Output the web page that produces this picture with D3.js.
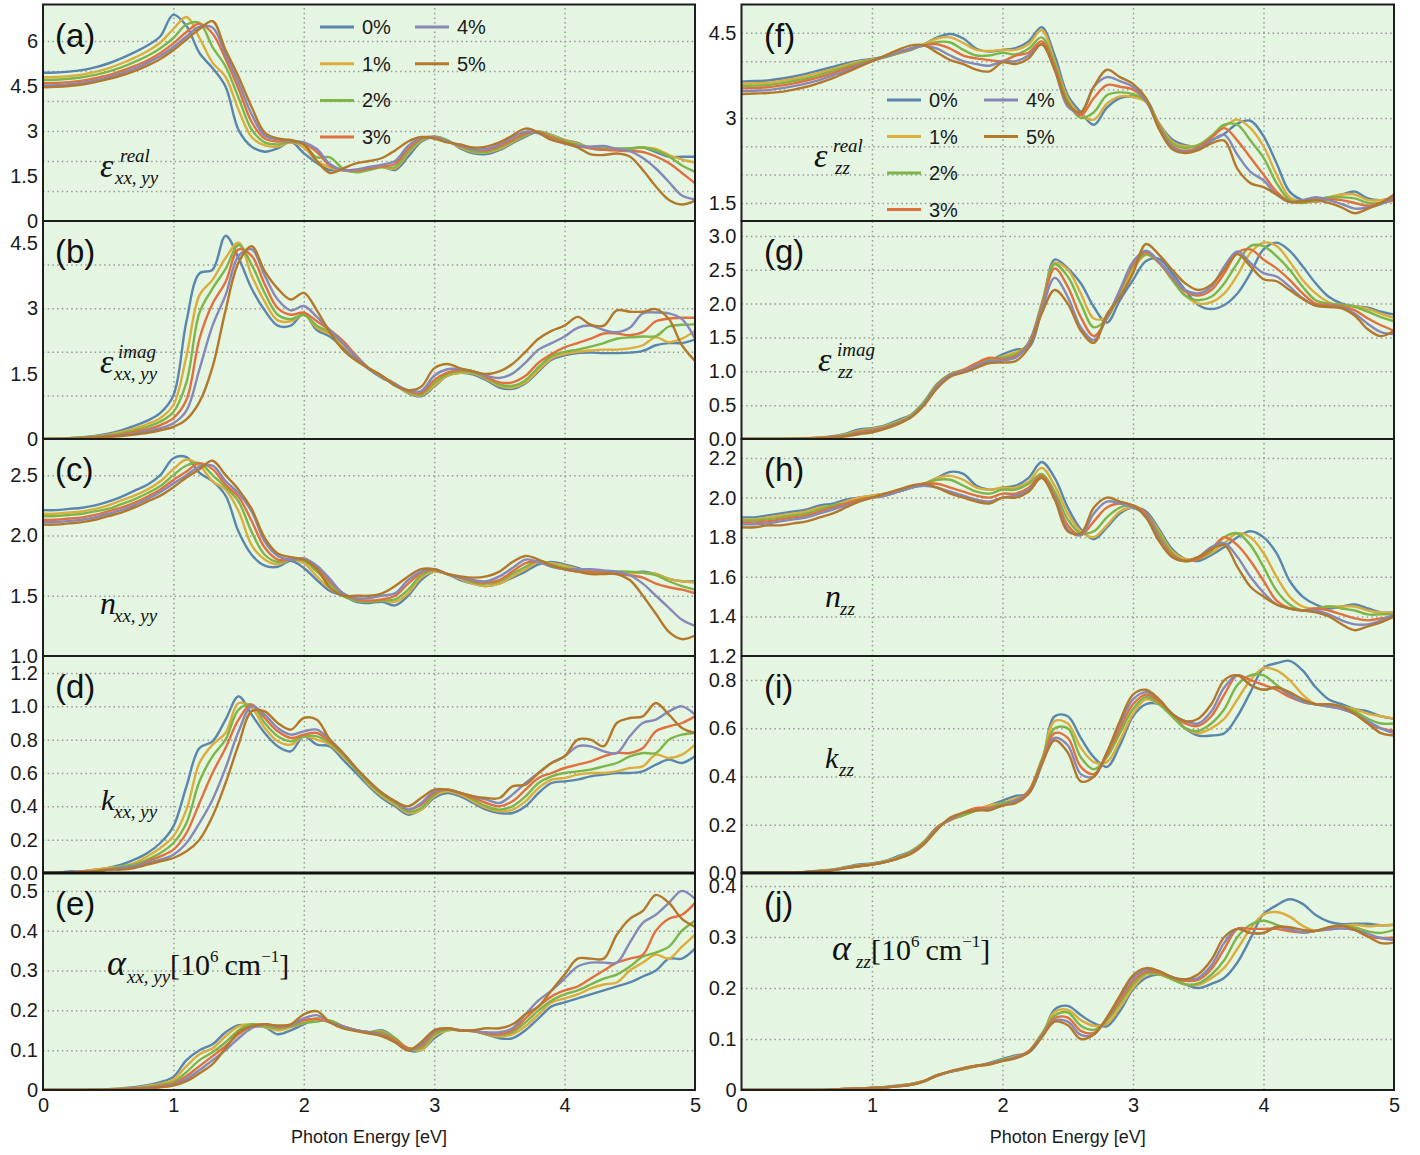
<!DOCTYPE html>
<html>
<head>
<meta charset="utf-8">
<script src="https://cdn.jsdelivr.net/npm/d3@7"></script>
<style>
  body { margin: 0; background: #ffffff; }
  svg { display: block; }
</style>
</head>
<body>
<svg id="chart" width="1420" height="1155"></svg>
<script>
// Photon energy grid (eV) shared by every spectrum
const energy = [0,0.1,0.2,0.3,0.4,0.5,0.6,0.7,0.8,0.9,1.0,1.1,1.2,1.3,1.4,1.5,1.6,1.7,1.8,1.9,2.0,2.1,2.2,2.3,2.4,2.5,2.6,2.7,2.8,2.9,3.0,3.1,3.2,3.3,3.4,3.5,3.6,3.7,3.8,3.9,4.0,4.1,4.2,4.3,4.4,4.5,4.6,4.7,4.8,4.9,5.0];

// Strain levels and their line colours
const strains = ["0%", "1%", "2%", "3%", "4%", "5%"];
const strainColors = ["#5a86ae", "#dcad3b", "#7cb548", "#e2703f", "#8588b8", "#b4782a"];

// (a) real part of in-plane dielectric function, one row per strain
const epsRealXX = [
  [4.94,4.95,4.98,5.03,5.12,5.25,5.42,5.62,5.85,6.16,6.88,6.5,5.6,5.1,4.48,3.03,2.48,2.31,2.42,2.64,2.26,1.93,1.7,1.7,1.64,1.75,1.81,1.7,2.14,2.64,2.81,2.7,2.42,2.26,2.23,2.37,2.59,2.81,2.98,2.87,2.7,2.6,2.42,2.37,2.37,2.4,2.45,2.3,2.14,2.14,2.14],
  [4.79,4.8,4.83,4.88,4.97,5.09,5.25,5.44,5.66,5.95,6.4,6.8,6.1,5.28,4.8,3.7,2.8,2.52,2.48,2.62,2.45,2.0,1.78,1.68,1.65,1.72,1.8,1.75,2.25,2.68,2.8,2.68,2.45,2.3,2.28,2.4,2.62,2.85,2.98,2.85,2.7,2.58,2.45,2.4,2.4,2.42,2.45,2.4,2.2,2.05,1.95],
  [4.7,4.71,4.74,4.79,4.87,4.98,5.12,5.3,5.5,5.76,6.1,6.55,6.6,5.8,5.15,4.1,3.05,2.62,2.55,2.62,2.55,2.12,2.12,1.75,1.62,1.7,1.8,1.8,2.3,2.7,2.8,2.68,2.48,2.32,2.3,2.45,2.65,2.88,2.98,2.82,2.68,2.55,2.45,2.42,2.42,2.42,2.45,2.35,2.15,1.85,1.64],
  [4.59,4.6,4.63,4.68,4.76,4.86,5.0,5.16,5.35,5.6,5.92,6.3,6.58,6.25,5.4,4.4,3.3,2.75,2.65,2.65,2.6,2.3,1.85,1.7,1.68,1.75,1.82,1.9,2.4,2.75,2.8,2.65,2.5,2.38,2.35,2.5,2.7,2.92,2.95,2.78,2.62,2.5,2.42,2.38,2.35,2.33,2.3,2.15,1.93,1.6,1.26],
  [4.52,4.53,4.56,4.61,4.69,4.79,4.92,5.08,5.27,5.5,5.8,6.15,6.48,6.45,5.55,4.6,3.55,2.85,2.72,2.68,2.62,2.4,1.9,1.7,1.72,1.8,1.88,2.0,2.5,2.78,2.78,2.65,2.52,2.4,2.4,2.55,2.78,2.98,2.92,2.72,2.58,2.5,2.48,2.5,2.4,2.33,2.1,1.75,1.3,0.85,0.72],
  [4.46,4.47,4.5,4.55,4.63,4.73,4.85,5.0,5.18,5.4,5.7,6.05,6.4,6.66,5.7,4.8,3.8,2.95,2.75,2.7,2.55,2.0,1.6,1.75,1.92,2.0,2.1,2.35,2.65,2.8,2.75,2.62,2.55,2.45,2.48,2.62,2.85,3.08,2.95,2.7,2.6,2.45,2.22,2.2,2.25,2.15,1.7,1.15,0.7,0.55,0.68]
];

// (b) imaginary part of in-plane dielectric function
const epsImagXX = [
  [0,0.01,0.02,0.04,0.07,0.12,0.2,0.3,0.42,0.6,1.0,2.7,3.8,3.88,4.66,4.15,3.45,2.95,2.6,2.6,2.87,2.5,2.35,2.1,1.85,1.6,1.4,1.25,1.05,0.98,1.2,1.45,1.52,1.48,1.35,1.18,1.15,1.28,1.55,1.82,1.92,1.97,1.98,1.97,1.97,1.98,2.02,2.15,2.2,2.2,2.28],
  [0,0.01,0.02,0.03,0.06,0.1,0.16,0.24,0.34,0.48,0.78,1.9,3.3,3.65,4.15,4.5,3.75,3.15,2.72,2.7,2.85,2.55,2.4,2.15,1.88,1.62,1.42,1.26,1.06,1.0,1.22,1.45,1.52,1.5,1.38,1.22,1.18,1.3,1.58,1.85,1.95,2.0,2.03,2.05,2.05,2.08,2.15,2.33,2.22,2.3,2.48],
  [0,0.01,0.02,0.03,0.05,0.08,0.13,0.2,0.28,0.4,0.62,1.3,2.9,3.45,3.9,4.45,4.0,3.35,2.85,2.75,2.85,2.6,2.45,2.2,1.9,1.62,1.43,1.27,1.08,1.02,1.28,1.48,1.55,1.52,1.4,1.25,1.22,1.35,1.65,1.9,2.0,2.05,2.12,2.2,2.3,2.33,2.35,2.36,2.58,2.62,2.63],
  [0,0,0.01,0.02,0.04,0.07,0.1,0.16,0.22,0.32,0.48,0.9,2.3,3.1,3.6,4.35,4.2,3.55,3.0,2.85,2.9,2.7,2.5,2.25,1.92,1.62,1.43,1.26,1.1,1.05,1.35,1.52,1.58,1.55,1.42,1.3,1.3,1.45,1.75,1.95,2.1,2.2,2.3,2.42,2.42,2.38,2.45,2.7,2.76,2.78,2.78],
  [0,0,0.01,0.02,0.03,0.06,0.08,0.12,0.18,0.25,0.36,0.65,1.6,2.6,3.3,4.2,4.35,3.75,3.2,2.95,3.05,2.8,2.5,2.2,1.88,1.62,1.44,1.25,1.12,1.1,1.45,1.6,1.6,1.55,1.45,1.4,1.5,1.75,2.05,2.2,2.35,2.55,2.6,2.5,2.45,2.55,2.88,2.9,2.88,2.75,2.3],
  [0,0,0.01,0.02,0.03,0.05,0.07,0.1,0.14,0.2,0.28,0.45,0.85,1.65,2.95,4.05,4.42,3.85,3.45,3.2,3.35,2.95,2.45,2.05,1.8,1.62,1.45,1.22,1.12,1.2,1.62,1.72,1.62,1.55,1.49,1.55,1.72,2.0,2.3,2.48,2.6,2.8,2.62,2.6,2.95,2.92,2.92,2.98,2.75,2.15,1.79]
];

// (c) in-plane refractive index
const nXX = [
  [2.21,2.21,2.22,2.23,2.25,2.28,2.32,2.37,2.42,2.5,2.64,2.65,2.52,2.45,2.33,2.03,1.84,1.75,1.74,1.79,1.73,1.63,1.54,1.5,1.45,1.44,1.45,1.42,1.5,1.63,1.7,1.68,1.63,1.6,1.58,1.6,1.65,1.7,1.76,1.78,1.76,1.73,1.7,1.69,1.69,1.69,1.7,1.68,1.64,1.62,1.62],
  [2.18,2.18,2.19,2.2,2.22,2.25,2.29,2.33,2.38,2.45,2.55,2.63,2.58,2.45,2.38,2.2,1.92,1.8,1.76,1.8,1.77,1.66,1.56,1.5,1.46,1.45,1.46,1.45,1.52,1.65,1.7,1.68,1.64,1.6,1.58,1.6,1.66,1.72,1.78,1.77,1.75,1.72,1.7,1.69,1.69,1.69,1.69,1.68,1.64,1.62,1.61],
  [2.16,2.16,2.17,2.18,2.2,2.22,2.26,2.3,2.35,2.41,2.5,2.58,2.6,2.5,2.4,2.28,2.03,1.84,1.78,1.8,1.79,1.7,1.6,1.5,1.46,1.45,1.46,1.47,1.55,1.67,1.71,1.68,1.65,1.61,1.6,1.62,1.68,1.74,1.79,1.76,1.73,1.71,1.7,1.7,1.7,1.7,1.69,1.67,1.62,1.58,1.55],
  [2.13,2.13,2.14,2.15,2.17,2.2,2.23,2.27,2.32,2.38,2.46,2.53,2.6,2.55,2.42,2.32,2.12,1.9,1.8,1.8,1.8,1.73,1.62,1.52,1.47,1.46,1.47,1.5,1.6,1.69,1.72,1.68,1.65,1.62,1.61,1.63,1.7,1.77,1.78,1.75,1.72,1.7,1.7,1.69,1.68,1.67,1.65,1.6,1.57,1.55,1.52],
  [2.11,2.11,2.12,2.13,2.15,2.18,2.21,2.25,2.3,2.36,2.43,2.5,2.57,2.58,2.45,2.35,2.2,1.95,1.83,1.8,1.81,1.75,1.64,1.52,1.48,1.48,1.5,1.52,1.63,1.7,1.72,1.68,1.65,1.63,1.62,1.66,1.73,1.8,1.78,1.74,1.72,1.72,1.72,1.71,1.7,1.67,1.6,1.5,1.4,1.3,1.25],
  [2.09,2.09,2.1,2.11,2.13,2.16,2.19,2.23,2.28,2.33,2.4,2.48,2.55,2.62,2.5,2.38,2.22,1.98,1.85,1.82,1.8,1.72,1.57,1.5,1.5,1.5,1.52,1.58,1.66,1.72,1.72,1.68,1.66,1.65,1.66,1.7,1.78,1.83,1.8,1.75,1.72,1.7,1.68,1.68,1.68,1.63,1.5,1.35,1.2,1.14,1.17]
];

// (d) in-plane extinction coefficient
const kXX = [
  [0,0,0.01,0.01,0.02,0.03,0.05,0.08,0.12,0.18,0.28,0.52,0.75,0.79,0.92,1.06,0.95,0.84,0.76,0.73,0.82,0.77,0.76,0.68,0.6,0.52,0.45,0.4,0.35,0.38,0.45,0.48,0.46,0.42,0.38,0.36,0.36,0.4,0.48,0.54,0.55,0.56,0.58,0.59,0.6,0.6,0.61,0.65,0.68,0.66,0.7],
  [0,0,0,0.01,0.02,0.03,0.04,0.06,0.1,0.15,0.22,0.38,0.66,0.77,0.84,1.02,0.99,0.87,0.79,0.77,0.82,0.8,0.77,0.7,0.62,0.53,0.46,0.41,0.36,0.38,0.46,0.49,0.47,0.43,0.39,0.37,0.38,0.43,0.51,0.56,0.57,0.59,0.6,0.6,0.61,0.63,0.64,0.71,0.69,0.71,0.77],
  [0,0,0,0.01,0.01,0.02,0.04,0.05,0.08,0.12,0.18,0.3,0.55,0.7,0.8,0.98,1.01,0.9,0.82,0.79,0.82,0.82,0.78,0.71,0.62,0.54,0.47,0.42,0.37,0.39,0.47,0.5,0.48,0.44,0.4,0.38,0.4,0.46,0.54,0.58,0.6,0.61,0.62,0.64,0.66,0.7,0.72,0.72,0.8,0.83,0.84],
  [0,0,0,0.01,0.01,0.02,0.03,0.04,0.07,0.1,0.14,0.24,0.42,0.6,0.75,0.92,1.01,0.93,0.85,0.81,0.83,0.84,0.79,0.72,0.63,0.55,0.48,0.43,0.38,0.41,0.48,0.5,0.48,0.45,0.42,0.4,0.43,0.5,0.57,0.6,0.63,0.65,0.67,0.7,0.72,0.72,0.75,0.85,0.88,0.9,0.94],
  [0,0,0,0,0.01,0.02,0.03,0.04,0.06,0.08,0.11,0.18,0.3,0.44,0.63,0.85,1.0,0.95,0.87,0.83,0.85,0.86,0.8,0.72,0.63,0.55,0.48,0.43,0.38,0.42,0.49,0.5,0.48,0.46,0.44,0.42,0.47,0.54,0.6,0.66,0.7,0.76,0.76,0.73,0.72,0.82,0.9,0.92,0.97,1.0,0.95],
  [0,0,0,0,0.01,0.02,0.02,0.03,0.05,0.07,0.09,0.13,0.2,0.34,0.54,0.77,0.97,0.97,0.9,0.86,0.93,0.92,0.8,0.72,0.63,0.55,0.48,0.43,0.4,0.45,0.5,0.5,0.48,0.46,0.45,0.45,0.52,0.53,0.6,0.66,0.7,0.8,0.8,0.76,0.9,0.93,0.94,1.02,0.95,0.87,0.84]
];

// (e) in-plane absorption coefficient, 10^6 cm^-1
const alphaXX = [
  [0,0,0,0,0.001,0.002,0.004,0.007,0.012,0.02,0.033,0.075,0.1,0.115,0.145,0.163,0.16,0.158,0.14,0.15,0.165,0.18,0.17,0.158,0.15,0.145,0.15,0.13,0.1,0.1,0.13,0.15,0.15,0.148,0.14,0.13,0.13,0.15,0.18,0.21,0.22,0.23,0.24,0.25,0.26,0.27,0.285,0.3,0.33,0.33,0.355],
  [0,0,0,0,0.001,0.002,0.003,0.005,0.01,0.016,0.026,0.06,0.09,0.105,0.135,0.16,0.165,0.158,0.15,0.158,0.168,0.18,0.17,0.16,0.15,0.145,0.148,0.13,0.105,0.1,0.135,0.15,0.15,0.148,0.14,0.135,0.14,0.16,0.19,0.22,0.23,0.24,0.255,0.265,0.27,0.3,0.32,0.34,0.33,0.36,0.39],
  [0,0,0,0,0.001,0.002,0.003,0.004,0.008,0.013,0.02,0.045,0.075,0.095,0.12,0.15,0.165,0.16,0.155,0.16,0.168,0.172,0.175,0.16,0.15,0.145,0.145,0.13,0.105,0.105,0.14,0.152,0.15,0.148,0.14,0.138,0.145,0.17,0.2,0.225,0.24,0.25,0.265,0.28,0.29,0.31,0.335,0.345,0.36,0.4,0.425],
  [0,0,0,0,0.001,0.001,0.002,0.004,0.006,0.01,0.016,0.035,0.06,0.085,0.11,0.14,0.16,0.165,0.158,0.162,0.175,0.178,0.17,0.16,0.15,0.145,0.14,0.125,0.105,0.11,0.145,0.155,0.15,0.148,0.142,0.14,0.15,0.18,0.21,0.235,0.25,0.26,0.28,0.3,0.32,0.33,0.34,0.4,0.43,0.44,0.47],
  [0,0,0,0,0,0.001,0.002,0.003,0.005,0.008,0.013,0.028,0.05,0.075,0.1,0.13,0.155,0.165,0.16,0.163,0.18,0.188,0.17,0.16,0.15,0.145,0.138,0.12,0.1,0.115,0.148,0.155,0.15,0.148,0.145,0.145,0.155,0.19,0.225,0.25,0.28,0.31,0.32,0.32,0.32,0.37,0.42,0.44,0.47,0.5,0.48],
  [0,0,0,0,0,0.001,0.002,0.003,0.004,0.007,0.011,0.022,0.042,0.065,0.105,0.145,0.16,0.165,0.162,0.165,0.19,0.198,0.17,0.155,0.148,0.142,0.135,0.12,0.1,0.12,0.15,0.155,0.15,0.15,0.155,0.155,0.165,0.19,0.21,0.25,0.29,0.33,0.33,0.33,0.39,0.43,0.45,0.49,0.47,0.43,0.41]
];

// (f) real part of out-of-plane dielectric function
const epsRealZZ = [
  [3.64,3.65,3.66,3.69,3.73,3.78,3.84,3.9,3.96,4.01,4.04,4.08,4.14,4.2,4.3,4.42,4.48,4.4,4.22,4.17,4.2,4.23,4.35,4.6,4.1,3.4,3.1,2.88,3.18,3.35,3.38,3.32,2.9,2.62,2.52,2.5,2.6,2.72,2.9,2.95,2.68,2.2,1.7,1.55,1.52,1.58,1.65,1.7,1.58,1.55,1.6],
  [3.6,3.61,3.62,3.65,3.69,3.74,3.8,3.86,3.93,3.99,4.03,4.08,4.14,4.22,4.3,4.4,4.42,4.32,4.2,4.18,4.2,4.2,4.3,4.55,4.0,3.35,3.05,2.97,3.25,3.38,3.37,3.28,2.9,2.58,2.5,2.52,2.65,2.85,2.97,2.82,2.5,2.0,1.6,1.52,1.53,1.6,1.65,1.65,1.55,1.55,1.58],
  [3.56,3.57,3.58,3.61,3.65,3.7,3.76,3.83,3.9,3.97,4.02,4.07,4.14,4.22,4.28,4.34,4.33,4.2,4.1,4.1,4.15,4.12,4.22,4.42,3.95,3.3,3.0,3.1,3.4,3.45,3.42,3.3,2.88,2.55,2.47,2.52,2.68,2.88,2.88,2.6,2.3,1.85,1.55,1.5,1.55,1.6,1.6,1.58,1.5,1.5,1.55],
  [3.52,3.53,3.54,3.57,3.61,3.66,3.72,3.79,3.87,3.94,4.01,4.08,4.15,4.22,4.28,4.3,4.22,4.1,4.05,4.02,4.0,4.1,4.15,4.35,3.9,3.25,3.05,3.35,3.58,3.55,3.5,3.3,2.85,2.5,2.42,2.48,2.65,2.82,2.6,2.3,2.0,1.7,1.52,1.52,1.57,1.57,1.55,1.5,1.45,1.5,1.55],
  [3.47,3.48,3.49,3.52,3.56,3.61,3.67,3.75,3.83,3.92,4.0,4.08,4.16,4.23,4.27,4.22,4.1,4.0,3.95,3.92,4.0,4.0,4.1,4.3,3.85,3.2,3.1,3.55,3.72,3.65,3.55,3.3,2.82,2.48,2.4,2.45,2.6,2.7,2.35,2.05,1.9,1.65,1.52,1.55,1.6,1.55,1.48,1.4,1.42,1.48,1.6],
  [3.42,3.43,3.44,3.46,3.5,3.55,3.62,3.7,3.8,3.9,4.0,4.1,4.2,4.28,4.28,4.15,4.02,3.95,3.85,3.82,3.98,3.95,4.05,4.3,3.85,3.25,3.1,3.55,3.85,3.72,3.6,3.35,2.8,2.45,2.38,2.43,2.55,2.6,2.1,1.85,1.78,1.65,1.52,1.53,1.55,1.5,1.42,1.32,1.4,1.5,1.65]
];

// (g) imaginary part of out-of-plane dielectric function
const epsImagZZ = [
  [0,0,0,0,0.01,0.01,0.02,0.04,0.08,0.14,0.16,0.2,0.28,0.36,0.55,0.8,0.95,1.0,1.1,1.15,1.25,1.32,1.35,1.9,2.65,2.52,2.3,1.95,1.72,2.05,2.35,2.63,2.66,2.45,2.2,1.98,1.92,1.98,2.15,2.45,2.8,2.9,2.78,2.55,2.3,2.1,2.0,1.96,1.94,1.88,1.84],
  [0,0,0,0,0.01,0.01,0.02,0.03,0.07,0.12,0.15,0.19,0.26,0.35,0.55,0.8,0.95,1.0,1.1,1.15,1.22,1.28,1.38,1.95,2.6,2.5,2.15,1.78,1.8,2.15,2.5,2.72,2.62,2.38,2.12,2.0,2.02,2.15,2.42,2.75,2.9,2.85,2.62,2.35,2.15,2.02,1.98,1.96,1.92,1.85,1.79],
  [0,0,0,0,0.01,0.01,0.02,0.03,0.06,0.11,0.14,0.18,0.25,0.34,0.55,0.82,0.96,1.02,1.1,1.18,1.2,1.25,1.42,2.0,2.58,2.4,2.0,1.65,1.78,2.18,2.55,2.73,2.6,2.35,2.12,2.05,2.1,2.3,2.6,2.85,2.85,2.7,2.5,2.25,2.05,2.0,1.98,1.95,1.88,1.8,1.74],
  [0,0,0,0,0,0.01,0.02,0.03,0.05,0.1,0.13,0.17,0.24,0.33,0.52,0.8,0.95,1.02,1.12,1.2,1.18,1.22,1.42,1.95,2.52,2.25,1.8,1.52,1.78,2.2,2.58,2.76,2.6,2.38,2.18,2.12,2.2,2.45,2.75,2.8,2.65,2.52,2.35,2.15,2.0,1.98,1.96,1.9,1.78,1.68,1.6],
  [0,0,0,0,0,0.01,0.01,0.02,0.05,0.08,0.11,0.16,0.23,0.33,0.52,0.78,0.94,1.0,1.08,1.15,1.16,1.2,1.4,1.9,2.38,2.1,1.65,1.46,1.8,2.2,2.62,2.78,2.62,2.4,2.2,2.15,2.25,2.55,2.77,2.6,2.45,2.4,2.25,2.08,1.97,1.96,1.94,1.85,1.7,1.58,1.55],
  [0,0,0,0,0,0.01,0.01,0.02,0.04,0.07,0.1,0.15,0.22,0.32,0.5,0.75,0.92,0.98,1.05,1.12,1.13,1.15,1.35,1.85,2.2,2.0,1.6,1.42,1.84,2.1,2.45,2.88,2.72,2.5,2.3,2.2,2.28,2.5,2.73,2.55,2.36,2.33,2.2,2.07,1.97,1.95,1.93,1.82,1.62,1.52,1.6]
];

// (h) out-of-plane refractive index
const nZZ = [
  [1.9,1.9,1.91,1.92,1.93,1.94,1.96,1.97,1.99,2.0,2.01,2.02,2.03,2.05,2.07,2.1,2.13,2.12,2.06,2.04,2.05,2.06,2.1,2.18,2.1,1.95,1.84,1.79,1.85,1.92,1.95,1.93,1.84,1.74,1.69,1.68,1.71,1.75,1.8,1.83,1.8,1.72,1.58,1.5,1.46,1.44,1.45,1.46,1.44,1.42,1.42],
  [1.89,1.89,1.9,1.91,1.92,1.93,1.95,1.96,1.98,2.0,2.01,2.02,2.03,2.05,2.07,2.1,2.11,2.09,2.05,2.04,2.05,2.05,2.08,2.15,2.06,1.92,1.83,1.8,1.86,1.93,1.95,1.92,1.83,1.73,1.69,1.69,1.72,1.77,1.82,1.8,1.72,1.6,1.5,1.45,1.44,1.45,1.45,1.45,1.43,1.42,1.42],
  [1.885,1.885,1.89,1.9,1.91,1.92,1.94,1.96,1.97,1.99,2.0,2.01,2.03,2.05,2.07,2.09,2.09,2.06,2.03,2.02,2.04,2.04,2.07,2.12,2.03,1.89,1.82,1.83,1.9,1.95,1.96,1.92,1.82,1.72,1.68,1.69,1.73,1.8,1.82,1.76,1.65,1.53,1.46,1.43,1.44,1.45,1.44,1.43,1.41,1.41,1.41],
  [1.875,1.875,1.88,1.89,1.9,1.91,1.93,1.95,1.97,1.99,2.0,2.01,2.03,2.05,2.07,2.07,2.05,2.03,2.01,2.0,2.02,2.02,2.05,2.11,2.01,1.86,1.81,1.88,1.95,1.97,1.96,1.92,1.8,1.71,1.68,1.69,1.74,1.8,1.76,1.68,1.58,1.48,1.44,1.43,1.44,1.43,1.41,1.39,1.38,1.39,1.4],
  [1.865,1.865,1.87,1.88,1.89,1.9,1.92,1.94,1.96,1.98,2.0,2.01,2.03,2.05,2.06,2.05,2.03,2.01,1.99,1.98,2.0,2.01,2.04,2.1,2.0,1.84,1.81,1.92,1.98,1.97,1.95,1.91,1.79,1.7,1.68,1.7,1.75,1.77,1.7,1.6,1.52,1.46,1.44,1.43,1.43,1.41,1.38,1.36,1.36,1.38,1.41],
  [1.85,1.85,1.86,1.86,1.87,1.88,1.9,1.92,1.95,1.98,2.0,2.02,2.04,2.06,2.07,2.05,2.02,2.0,1.98,1.97,2.0,2.0,2.03,2.1,1.99,1.83,1.82,1.95,2.0,1.98,1.96,1.9,1.78,1.7,1.68,1.7,1.74,1.76,1.65,1.55,1.5,1.46,1.44,1.43,1.42,1.4,1.36,1.33,1.35,1.37,1.4]
];

// (i) out-of-plane extinction coefficient
const kZZ = [
  [0,0,0,0,0,0.005,0.01,0.015,0.025,0.035,0.04,0.05,0.07,0.09,0.13,0.19,0.22,0.24,0.26,0.28,0.3,0.32,0.33,0.45,0.65,0.65,0.56,0.48,0.44,0.53,0.65,0.7,0.7,0.66,0.6,0.57,0.57,0.58,0.65,0.75,0.85,0.87,0.88,0.84,0.77,0.72,0.7,0.68,0.67,0.65,0.64],
  [0,0,0,0,0,0.004,0.009,0.014,0.023,0.032,0.038,0.048,0.065,0.09,0.13,0.19,0.22,0.24,0.26,0.28,0.29,0.31,0.33,0.46,0.63,0.62,0.52,0.46,0.46,0.55,0.66,0.72,0.7,0.65,0.6,0.58,0.6,0.64,0.72,0.8,0.85,0.84,0.8,0.74,0.7,0.7,0.69,0.68,0.66,0.65,0.64],
  [0,0,0,0,0,0.004,0.008,0.013,0.022,0.03,0.036,0.046,0.063,0.09,0.13,0.19,0.22,0.24,0.26,0.27,0.29,0.3,0.34,0.47,0.6,0.6,0.48,0.43,0.48,0.58,0.68,0.73,0.7,0.65,0.6,0.59,0.62,0.68,0.78,0.82,0.82,0.78,0.74,0.71,0.7,0.7,0.69,0.67,0.64,0.62,0.62],
  [0,0,0,0,0,0.004,0.008,0.012,0.021,0.029,0.035,0.045,0.062,0.085,0.125,0.19,0.22,0.25,0.27,0.27,0.28,0.3,0.34,0.46,0.58,0.56,0.44,0.41,0.49,0.6,0.7,0.74,0.71,0.66,0.62,0.61,0.65,0.74,0.82,0.8,0.78,0.76,0.73,0.71,0.7,0.69,0.68,0.66,0.62,0.6,0.59],
  [0,0,0,0,0,0.003,0.007,0.012,0.02,0.028,0.035,0.045,0.06,0.083,0.122,0.185,0.225,0.25,0.26,0.265,0.28,0.3,0.33,0.45,0.56,0.53,0.41,0.4,0.5,0.62,0.72,0.75,0.72,0.66,0.63,0.62,0.67,0.77,0.82,0.78,0.76,0.77,0.74,0.71,0.7,0.69,0.68,0.66,0.63,0.6,0.58],
  [0,0,0,0,0,0.003,0.007,0.012,0.02,0.028,0.035,0.045,0.06,0.08,0.12,0.18,0.23,0.25,0.26,0.26,0.28,0.29,0.33,0.45,0.55,0.5,0.38,0.4,0.5,0.63,0.74,0.76,0.72,0.66,0.63,0.64,0.7,0.8,0.82,0.78,0.76,0.77,0.75,0.72,0.7,0.7,0.69,0.66,0.62,0.58,0.57]
];

// (j) out-of-plane absorption coefficient, 10^6 cm^-1
const alphaZZ = [
  [0,0,0,0,0,0,0,0.001,0.002,0.003,0.004,0.006,0.009,0.012,0.018,0.029,0.036,0.041,0.047,0.053,0.061,0.068,0.073,0.104,0.158,0.165,0.147,0.131,0.125,0.155,0.197,0.22,0.227,0.222,0.207,0.2,0.208,0.22,0.25,0.297,0.345,0.362,0.374,0.365,0.343,0.33,0.325,0.326,0.326,0.323,0.324],
  [0,0,0,0,0,0,0,0.001,0.002,0.003,0.004,0.005,0.008,0.012,0.018,0.029,0.036,0.041,0.047,0.052,0.059,0.066,0.074,0.107,0.153,0.157,0.137,0.126,0.13,0.162,0.2,0.226,0.227,0.217,0.207,0.206,0.219,0.24,0.277,0.316,0.344,0.349,0.34,0.322,0.312,0.319,0.322,0.324,0.321,0.323,0.324],
  [0,0,0,0,0,0,0,0.001,0.002,0.003,0.004,0.005,0.008,0.012,0.018,0.029,0.036,0.041,0.047,0.052,0.059,0.064,0.076,0.11,0.146,0.152,0.126,0.118,0.136,0.17,0.207,0.229,0.227,0.217,0.207,0.209,0.226,0.255,0.3,0.324,0.332,0.324,0.315,0.309,0.312,0.319,0.322,0.319,0.311,0.308,0.314],
  [0,0,0,0,0,0,0,0.001,0.002,0.003,0.004,0.005,0.008,0.011,0.018,0.029,0.036,0.042,0.048,0.052,0.057,0.064,0.076,0.107,0.141,0.142,0.116,0.112,0.139,0.176,0.213,0.232,0.23,0.221,0.214,0.216,0.237,0.277,0.316,0.316,0.316,0.316,0.311,0.309,0.312,0.315,0.317,0.314,0.301,0.298,0.299],
  [0,0,0,0,0,0,0,0.001,0.002,0.003,0.004,0.005,0.007,0.01,0.017,0.028,0.036,0.043,0.047,0.051,0.057,0.064,0.074,0.105,0.136,0.134,0.108,0.109,0.142,0.182,0.219,0.236,0.233,0.221,0.217,0.22,0.244,0.289,0.316,0.308,0.308,0.32,0.315,0.309,0.312,0.315,0.317,0.314,0.306,0.298,0.294],
  [0,0,0,0,0,0,0,0.001,0.002,0.003,0.004,0.005,0.007,0.01,0.017,0.028,0.037,0.043,0.047,0.05,0.057,0.062,0.074,0.103,0.134,0.127,0.1,0.109,0.142,0.185,0.225,0.239,0.233,0.221,0.217,0.227,0.255,0.3,0.316,0.308,0.308,0.32,0.319,0.314,0.312,0.319,0.322,0.314,0.301,0.288,0.289]
];

// Tick labels (value, text) and grid-line values for each panel
const ticksA = [[0,"0"],[1.5,"1.5"],[3,"3"],[4.5,"4.5"],[6,"6"]];
const gridA = [1,2,3,4,5,6];
const ticksB = [[0,"0"],[1.5,"1.5"],[3,"3"],[4.5,"4.5"]];
const gridB = [1,2,3,4];
const ticksC = [[1,"1.0"],[1.5,"1.5"],[2,"2.0"],[2.5,"2.5"]];
const gridC = [1.5,2,2.5];
const ticksD = [[0,"0.0"],[0.2,"0.2"],[0.4,"0.4"],[0.6,"0.6"],[0.8,"0.8"],[1.0,"1.0"],[1.2,"1.2"]];
const gridD = [0.2,0.4,0.6,0.8,1.0,1.2];
const ticksE = [[0,"0"],[0.1,"0.1"],[0.2,"0.2"],[0.3,"0.3"],[0.4,"0.4"],[0.5,"0.5"]];
const gridE = [0.1,0.2,0.3,0.4,0.5];
const ticksF = [[1.5,"1.5"],[3,"3"],[4.5,"4.5"]];
const gridF = [1.5,2,2.5,3,3.5,4,4.5];
const ticksG = [[0,"0.0"],[0.5,"0.5"],[1,"1.0"],[1.5,"1.5"],[2,"2.0"],[2.5,"2.5"],[3,"3.0"]];
const gridG = [0.5,1,1.5,2,2.5,3];
const ticksH = [[1.2,"1.2"],[1.4,"1.4"],[1.6,"1.6"],[1.8,"1.8"],[2.0,"2.0"],[2.2,"2.2"]];
const gridH = [1.4,1.6,1.8,2.0,2.2];
const ticksI = [[0,"0.0"],[0.2,"0.2"],[0.4,"0.4"],[0.6,"0.6"],[0.8,"0.8"]];
const gridI = [0.2,0.4,0.6,0.8];
const ticksJ = [[0,"0"],[0.1,"0.1"],[0.2,"0.2"],[0.3,"0.3"],[0.4,"0.4"]];
const gridJ = [0.1,0.2,0.3,0.4];
const energyTicks = [0,1,2,3,4,5];

// ---- layout ----
const columns = [[43, 695], [741.5, 1394]];
const rows = [[4.5, 221], [221, 439], [439, 656], [656, 873], [873, 1090]];

const panels = [
  { id: "a", col: 0, row: 0, data: epsRealXX, domain: [0, 7.217], ticks: ticksA, grid: gridA },
  { id: "b", col: 0, row: 1, data: epsImagXX, domain: [0, 5.0],   ticks: ticksB, grid: gridB },
  { id: "c", col: 0, row: 2, data: nXX,       domain: [1, 2.8],   ticks: ticksC, grid: gridC },
  { id: "d", col: 0, row: 3, data: kXX,       domain: [0, 1.302], ticks: ticksD, grid: gridD },
  { id: "e", col: 0, row: 4, data: alphaXX,   domain: [0, 0.545], ticks: ticksE, grid: gridE },
  { id: "f", col: 1, row: 0, data: epsRealZZ, domain: [1.182, 5.0], ticks: ticksF, grid: gridF },
  { id: "g", col: 1, row: 1, data: epsImagZZ, domain: [0, 3.22],  ticks: ticksG, grid: gridG },
  { id: "h", col: 1, row: 2, data: nZZ,       domain: [1.2, 2.296], ticks: ticksH, grid: gridH },
  { id: "i", col: 1, row: 3, data: kZZ,       domain: [0, 0.9],   ticks: ticksI, grid: gridI },
  { id: "j", col: 1, row: 4, data: alphaZZ,   domain: [0, 0.4255], ticks: ticksJ, grid: gridJ }
];

const svg = d3.select("#chart");
const defs = svg.append("defs");
const sansFont = "'Liberation Sans', Arial, sans-serif";
const serifFont = "'Liberation Serif', 'Times New Roman', serif";

const xScales = columns.map(c => d3.scaleLinear().domain([0, 5]).range(c));

panels.forEach(p => {
  const [x0, x1] = columns[p.col];
  const [y0, y1] = rows[p.row];
  const x = xScales[p.col];
  const y = d3.scaleLinear().domain(p.domain).range([y1, y0]);
  const g = svg.append("g").attr("class", "panel-" + p.id);

  g.append("rect").attr("x", x0).attr("y", y0).attr("width", x1 - x0).attr("height", y1 - y0)
    .attr("fill", "#e4f5e2");

  // dotted grid
  const gy = g.append("g").attr("transform", `translate(${x0},0)`)
    .call(d3.axisLeft(y).tickValues(p.grid).tickSize(-(x1 - x0)).tickFormat(""));
  const gx = g.append("g").attr("transform", `translate(0,${y1})`)
    .call(d3.axisBottom(x).tickValues([1, 2, 3, 4]).tickSize(-(y1 - y0)).tickFormat(""));
  [gy, gx].forEach(a => {
    a.select(".domain").remove();
    a.selectAll(".tick line").attr("stroke", "#9a9a9a").attr("stroke-width", 1.5)
      .attr("stroke-dasharray", "1.5 3.2");
  });

  // spectra
  const clipId = "clip-" + p.id;
  defs.append("clipPath").attr("id", clipId).append("rect")
    .attr("x", x0).attr("y", y0).attr("width", x1 - x0).attr("height", y1 - y0);
  const line = d3.line()
    .x((d, i) => x(energy[i]))
    .y(d => y(d))
    .curve(d3.curveCatmullRom.alpha(0.5));
  g.append("g").attr("clip-path", `url(#${clipId})`)
    .selectAll("path").data(p.data).join("path")
    .attr("d", line)
    .attr("fill", "none")
    .attr("stroke", (d, i) => strainColors[i])
    .attr("stroke-width", 2.4)
    .attr("stroke-linejoin", "round");

  // y tick labels
  const yl = g.append("g").attr("transform", `translate(${x0},0)`)
    .call(d3.axisLeft(y).tickValues(p.ticks.map(t => t[0]))
      .tickFormat((d, i) => p.ticks[i][1]).tickSize(0).tickPadding(5));
  yl.select(".domain").remove();
  yl.selectAll("text").attr("font-family", sansFont).attr("font-size", 20).attr("fill", "#1a1a1a");

  // frame
  g.append("rect").attr("x", x0).attr("y", y0).attr("width", x1 - x0).attr("height", y1 - y0)
    .attr("fill", "none").attr("stroke", "#1d1d1d").attr("stroke-width", 2);

  // panel letter
  g.append("text").attr("x", p.col === 0 ? 55 : 764).attr("y", y0 + 42)
    .attr("font-family", sansFont).attr("font-size", 33).attr("fill", "#111")
    .text(`(${p.id})`);
});

// heavier separators between the k and alpha panels
[0, 1].forEach(c => {
  svg.append("line").attr("x1", columns[c][0]).attr("x2", columns[c][1])
    .attr("y1", 873).attr("y2", 873).attr("stroke", "#111").attr("stroke-width", 3.2);
});

// x axes
xScales.forEach((x, c) => {
  const ax = svg.append("g").attr("transform", "translate(0,1090)")
    .call(d3.axisBottom(x).tickValues(energyTicks).tickFormat(d3.format("d")).tickSize(0).tickPadding(8));
  ax.select(".domain").remove();
  ax.selectAll("text").attr("font-family", sansFont).attr("font-size", 20).attr("fill", "#1a1a1a");
  svg.append("text").attr("x", (columns[c][0] + columns[c][1]) / 2).attr("y", 1143)
    .attr("text-anchor", "middle").attr("font-family", sansFont).attr("font-size", 18)
    .attr("fill", "#1a1a1a").text("Photon Energy [eV]");
});

// quantity symbols inside each panel
function symbol(x, yb, main, sup, sub, opts = {}) {
  const t = svg.append("g");
  t.append("text").attr("x", x).attr("y", yb).attr("font-family", serifFont)
    .attr("font-style", "italic").attr("font-size", opts.size || 34).attr("fill", "#111").text(main);
  if (sup) t.append("text").attr("x", opts.supX).attr("y", yb - 15).attr("font-family", serifFont)
    .attr("font-style", "italic").attr("font-size", 19).attr("fill", "#111").text(sup);
  if (sub) t.append("text").attr("x", opts.subX).attr("y", yb + (opts.subDy || 7)).attr("font-family", serifFont)
    .attr("font-style", "italic").attr("font-size", 19).attr("fill", "#111").text(sub);
  return t;
}
function unitSuffix(x, yb) {
  const t = svg.append("text").attr("x", x).attr("y", yb).attr("font-family", serifFont)
    .attr("font-size", 30).attr("fill", "#111");
  t.append("tspan").text("[10");
  t.append("tspan").attr("font-size", 17).attr("dy", -13).text("6");
  t.append("tspan").attr("dy", 13).text("\u2009cm");
  t.append("tspan").attr("font-size", 17).attr("dy", -13).text("\u22121");
  t.append("tspan").attr("dy", 13).text("]");
}

symbol(100, 177, "\u03b5", "real", "xx, yy", { supX: 120, subX: 115 });
symbol(100, 373, "\u03b5", "imag", "xx, yy", { supX: 118, subX: 114 });
symbol(100, 614, "n", null, "xx, yy", { size: 32, subX: 114, subDy: 8 });
symbol(101, 810, "k", null, "xx, yy", { size: 30, subX: 114, subDy: 8 });
symbol(107, 975, "\u03b1", null, "xx, yy", { size: 36, subX: 127, subDy: 8 });
unitSuffix(170, 975);

symbol(814, 167, "\u03b5", "real", "zz", { supX: 833, subX: 835 });
symbol(818, 371, "\u03b5", "imag", "zz", { supX: 837, subX: 838 });
symbol(825, 607, "n", null, "zz", { size: 32, subX: 840, subDy: 8 });
symbol(825, 768, "k", null, "zz", { size: 30, subX: 839, subDy: 8 });
symbol(832, 960, "\u03b1", null, "zz", { size: 36, subX: 856, subDy: 8 });
unitSuffix(871, 960);

// legends (two columns: 0-3 % and 4-5 %)
function legend(lx, ly, colGap, rowGap) {
  const lg = svg.append("g");
  strains.forEach((s, i) => {
    const cx = lx + (i < 4 ? 0 : colGap);
    const cy = ly + (i < 4 ? i : i - 4) * rowGap;
    lg.append("line").attr("x1", cx).attr("x2", cx + 34).attr("y1", cy).attr("y2", cy)
      .attr("stroke", strainColors[i]).attr("stroke-width", 3);
    lg.append("text").attr("x", cx + 42).attr("y", cy + 7).attr("font-family", sansFont)
      .attr("font-size", 20).attr("fill", "#1a1a1a").text(s);
  });
}
legend(320, 27, 95, 36.7);
legend(887, 100, 97, 36.5);
</script>
</body>
</html>
